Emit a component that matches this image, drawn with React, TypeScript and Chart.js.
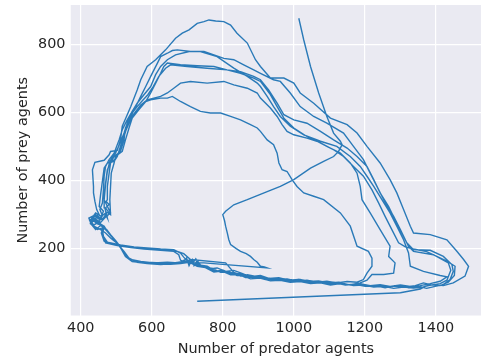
import React, { useEffect, useRef } from "react";
import { Chart, registerables } from "chart.js";
Chart.register(...registerables);

type Pt = [number, number];

// [predator agents, prey agents] along the simulated trajectory
const startRun: Pt[] = [[1014,878],[1028,814],[1047,736],[1070,658],[1093,589],[1112,540],[1131,516],[1136,506],[1126,486],[1112,471],[1084,457],[1047,437],[1000,403],[962,383],[925,368],[869,344],[831,329],[808,310],[800,300],[805,282],[808,266],[813,245],[817,226],[822,212],[838,200],[850,192],[866,185],[878,177],[887,168],[897,160],[906,148],[917,146],[925,143]];

const band0: Pt[] = [[747,158],[719,158],[690,162],[662,158],[625,158],[587,160],[555,162],[531,175],[517,197],[503,217],[489,234],[475,251],[466,266],[452,275],[437,280],[447,295],[461,285],[470,300],[475,290]];

const loop6: Pt[] = [[468,320],[466,354],[470,393],[475,432],[484,452],[498,464],[508,486],[517,516],[526,545],[536,569],[550,594],[569,618],[583,633],[597,638],[625,643],[644,643],[658,648],[681,633],[709,618],[737,604],[765,599],[794,599],[822,589],[850,579],[878,565],[897,555],[906,545],[925,520],[943,506],[953,481],[958,452],[967,432],[981,427],[995,403],[1009,383],[1028,364],[1056,354],[1084,344],[1131,305],[1159,266],[1178,207],[1210,192],[1220,172],[1220,148],[1206,128],[1196,109]];

const band1: Pt[] = [[1178,101],[1150,103],[1121,99],[1093,104],[1065,101],[1037,107],[1009,104],[981,111],[953,109],[925,114],[897,117],[869,123],[850,119],[831,130],[812,128],[794,136],[775,133],[756,143],[737,148],[719,153],[712,165],[705,150],[698,172],[690,160],[681,166],[676,182],[662,192],[625,195],[578,199],[541,203],[503,209],[470,217],[461,241],[466,266],[447,273],[433,285],[442,300],[456,290],[464,310]];

const loop5: Pt[] = [[452,324],[456,359],[461,398],[466,437],[475,452],[494,457],[503,471],[512,501],[522,530],[531,560],[541,584],[555,604],[569,623],[587,638],[606,643],[625,648],[644,658],[662,672],[681,687],[709,692],[756,687],[803,692],[831,682],[869,672],[897,658],[906,643],[934,614],[953,589],[967,565],[981,545],[1000,535],[1037,525],[1065,516],[1093,501],[1131,481],[1159,452],[1178,422],[1187,383],[1192,344],[1215,305],[1243,256],[1271,207],[1267,177],[1285,158],[1281,128],[1253,124],[1220,124],[1206,107]];

const band2: Pt[] = [[1187,99],[1159,94],[1131,97],[1103,93],[1075,99],[1047,97],[1018,103],[990,101],[962,107],[934,105],[906,113],[878,111],[854,121],[831,130],[808,158],[709,168],[690,158],[662,156],[625,153],[587,156],[559,160],[536,172],[522,192],[503,215],[484,231],[470,246],[456,256],[437,266],[427,275],[436,290],[452,280],[461,297],[454,315]];

const loop3: Pt[] = [[461,334],[464,373],[466,413],[470,442],[480,462],[494,481],[508,520],[517,550],[531,579],[545,604],[559,628],[578,653],[597,677],[611,712],[625,736],[644,756],[667,770],[705,780],[737,780],[784,765],[831,731],[869,707],[897,687],[906,677],[925,648],[943,618],[962,589],[990,560],[1028,535],[1075,516],[1121,501],[1159,471],[1187,442],[1206,413],[1225,383],[1248,344],[1271,305],[1290,266],[1309,226],[1323,187],[1328,148],[1365,133],[1412,121],[1431,117],[1412,104]];

const band3: Pt[] = [[1384,97],[1356,91],[1328,89],[1300,93],[1271,89],[1243,94],[1215,91],[1187,97],[1159,93],[1131,99],[1103,97],[1075,103],[1047,101],[1018,109],[990,107],[962,113],[934,111],[906,121],[878,117],[854,127],[831,136],[808,133],[784,143],[761,140],[737,152],[728,165],[719,150],[714,168],[705,158],[690,175],[681,187],[662,197],[625,199],[587,202],[550,205],[512,211],[475,219],[464,236],[461,256],[442,261],[428,273],[437,285],[456,277],[470,293],[484,305]];

const loop4b: Pt[] = [[466,344],[470,388],[475,427],[482,457],[498,481],[511,511],[522,540],[531,569],[541,594],[559,618],[576,638],[589,653],[604,677],[620,707],[639,731],[653,741],[700,736],[756,731],[812,726],[850,716],[887,702],[906,692],[934,653],[953,618],[972,584],[1000,555],[1037,530],[1075,511],[1112,491],[1140,471],[1168,442],[1196,413],[1220,373],[1239,334],[1257,295],[1276,256],[1295,217],[1314,205],[1337,199],[1374,191],[1431,163],[1454,148],[1452,121],[1435,101]];

const band4: Pt[] = [[1412,91],[1384,94],[1365,87],[1337,84],[1309,87],[1281,83],[1253,89],[1225,87],[1196,93],[1168,91],[1140,97],[1112,95],[1084,101],[1056,99],[1028,104],[1000,102],[972,109],[943,107],[915,115],[887,113],[864,123],[840,121],[817,132],[794,130],[770,142],[747,146],[719,158],[695,168],[676,158],[644,160],[606,158],[569,162],[541,168],[526,182],[512,205],[498,224],[484,241],[473,256],[456,268],[442,256],[430,271],[423,290],[437,297],[454,285],[475,295],[480,305]];

const loop2: Pt[] = [[470,320],[480,330],[472,338],[475,344],[475,383],[480,422],[484,452],[494,471],[512,486],[522,520],[526,555],[541,589],[555,618],[569,648],[583,677],[597,707],[616,746],[625,765],[644,775],[658,783],[672,785],[709,780],[747,780],[775,770],[803,760],[831,756],[859,741],[887,726],[906,716],[943,697],[962,692],[990,658],[1018,618],[1056,589],[1093,569],[1140,540],[1168,501],[1196,462],[1215,422],[1234,383],[1253,344],[1281,295],[1300,256],[1318,217],[1337,197],[1384,195],[1421,177],[1445,153],[1449,133],[1440,109],[1421,94]];

const band5: Pt[] = [[1398,89],[1374,83],[1351,89],[1323,85],[1295,91],[1267,87],[1239,93],[1210,89],[1182,97],[1154,94],[1126,101],[1098,99],[1070,105],[1042,103],[1014,109],[986,107],[958,114],[929,112],[901,119],[873,117],[850,127],[826,124],[803,136],[780,133],[756,148],[733,152],[724,170],[716,158],[709,168],[690,185],[672,192],[634,195],[597,197],[559,201],[522,207],[484,215],[466,222],[458,246],[464,264],[449,277],[436,269],[428,285],[442,305],[458,295],[473,307],[484,300]];

const loop4: Pt[] = [[482,344],[484,383],[486,422],[494,452],[498,471],[517,486],[526,520],[536,555],[545,584],[564,609],[583,633],[597,658],[611,687],[625,716],[634,736],[644,746],[681,741],[728,738],[775,736],[812,726],[850,721],[887,707],[906,697],[929,667],[953,628],[972,594],[1000,579],[1037,569],[1075,545],[1112,520],[1150,496],[1178,471],[1206,442],[1225,403],[1243,364],[1267,324],[1285,285],[1304,246],[1323,207],[1337,192],[1393,182],[1435,158],[1442,136],[1431,107],[1412,97]];

const band6: Pt[] = [[1388,93],[1365,99],[1342,91],[1314,87],[1285,91],[1257,85],[1229,91],[1201,89],[1173,95],[1145,93],[1117,99],[1089,97],[1061,103],[1032,101],[1004,107],[976,105],[948,111],[920,109],[892,117],[864,115],[845,124],[822,123],[798,134],[775,131],[751,144],[728,148],[705,160],[681,156],[653,154],[616,156],[578,158],[545,162],[526,177],[514,199],[501,219],[486,236],[475,250],[464,262],[447,256],[433,268],[425,283],[437,293],[452,300],[445,315],[440,339]];

const loop1: Pt[] = [[436,364],[436,383],[433,432],[440,454],[466,460],[480,476],[484,486],[503,489],[512,520],[517,560],[531,594],[541,618],[559,667],[569,697],[587,736],[611,756],[639,785],[667,819],[686,834],[705,844],[728,863],[747,868],[761,873],[780,870],[803,868],[822,858],[840,834],[869,805],[892,756],[906,736],[934,702],[972,702],[1000,687],[1018,658],[1056,628],[1103,584],[1150,565],[1178,540],[1206,501],[1243,452],[1271,403],[1290,364],[1309,315],[1328,266],[1337,246],[1384,241],[1431,226],[1459,192],[1478,168],[1492,148],[1482,119],[1449,99]];

const finalRun: Pt[] = [[1421,91],[1393,94],[1370,89],[1356,81],[1300,70],[728,45]];

const segments: Pt[][] = [startRun, band0, loop6, band1, loop5, band2, loop3, band3, loop4b, band4, loop2, band5, loop4, band6, loop1, finalRun];

const xTicks = [400, 600, 800, 1000, 1200, 1400];
const yTicks = [200, 400, 600, 800];

export default function App() {
  const ref = useRef<HTMLCanvasElement>(null);
  useEffect(() => {
    document.body.style.margin = "0";
    const pts = segments.flat().map(([x, y]) => ({ x, y }));
    const bg = {
      id: "bg",
      beforeDraw(chart: any) {
        const { ctx, chartArea: a } = chart;
        ctx.save();
        ctx.fillStyle = "#EAEAF2";
        ctx.fillRect(a.left, a.top, a.right - a.left, a.bottom - a.top);
        ctx.restore();
      },
    };
    const font = { family: "DejaVu Sans", size: 14.4 };
    const zeroPad = (ax: any) => {
      ax.paddingTop = 0;
      ax.paddingBottom = 0;
      ax.paddingLeft = 0;
      ax.paddingRight = 0;
    };
    const chart = new Chart(ref.current as HTMLCanvasElement, {
      type: "line",
      data: {
        datasets: [
          {
            data: pts,
            borderColor: "#2a7ab8",
            borderWidth: 1.4,
            pointRadius: 0,
            tension: 0,
            fill: false,
          },
        ],
      },
      options: {
        animation: false,
        responsive: false,
        devicePixelRatio: 1,
        layout: { padding: { left: 3.3, right: 1, top: 5, bottom: 2.5 } },
        plugins: { legend: { display: false }, tooltip: { enabled: false } },
        scales: {
          x: {
            type: "linear",
            min: 372,
            max: 1527,
            afterBuildTicks: (ax: any) => {
              ax.ticks = xTicks.map((v) => ({ value: v }));
            },
            afterFit: zeroPad,
            grid: { color: "#ffffff", lineWidth: 1.2, drawTicks: false },
            border: { display: false },
            ticks: { padding: 5.5, color: "#262626", font: { ...font, lineHeight: 0.95 }, autoSkip: false, maxRotation: 0, callback: (v: any) => String(v) },
            title: { display: true, text: "Number of predator agents", color: "#262626", font, padding: { top: 0, bottom: 0 } },
          },
          y: {
            type: "linear",
            min: 3,
            max: 917,
            afterBuildTicks: (ax: any) => {
              ax.ticks = yTicks.map((v) => ({ value: v }));
            },
            afterFit: zeroPad,
            grid: { color: "#ffffff", lineWidth: 1.2, drawTicks: false },
            border: { display: false },
            ticks: { padding: 5.3, color: "#262626", font, autoSkip: false, callback: (v: any) => String(v) },
            title: { display: true, text: "Number of prey agents", color: "#262626", font: { ...font, lineHeight: 1.0 }, padding: { top: 13, bottom: 2 } },
          },
        },
      },
      plugins: [bg],
    });
    return () => chart.destroy();
  }, []);
  return (
    <div style={{ position: "fixed", left: 0, top: 0, width: 482, height: 360, background: "#fff" }}>
      <canvas ref={ref} width={482} height={360} style={{ display: "block" }} />
    </div>
  );
}
